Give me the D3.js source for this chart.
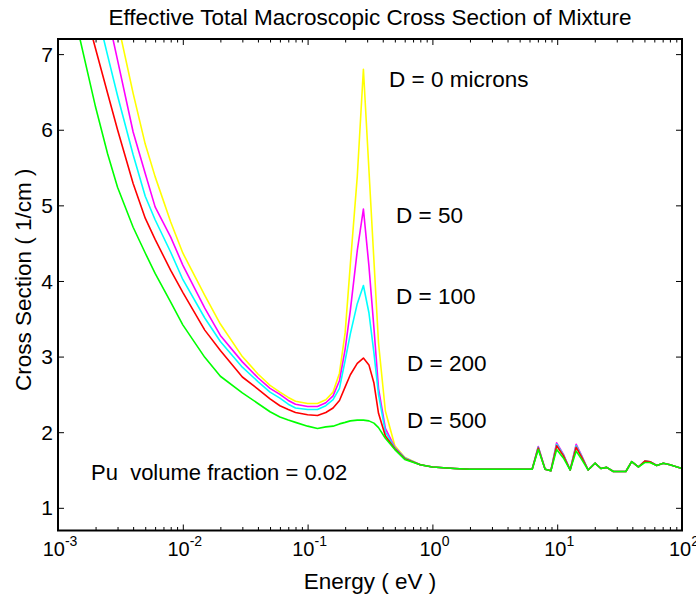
<!DOCTYPE html>
<html>
<head>
<meta charset="utf-8">
<script src="https://cdn.jsdelivr.net/npm/d3@7"></script>
<style>
  body { margin: 0; background: #fff; }
  svg { display: block; font-family: "Liberation Sans", Arial, Helvetica, sans-serif; }
  .tick line { stroke: #000; stroke-width: 1; }
</style>
</head>
<body>
<svg id="chart" width="696" height="598"></svg>
<script>
// energies (eV) shared by every curve
const energies = [0.0015, 0.002, 0.0025, 0.003, 0.004, 0.005, 0.006, 0.008, 0.01,
  0.015, 0.02, 0.03, 0.04, 0.05, 0.06, 0.07, 0.08,
  0.1, 0.12, 0.14, 0.16, 0.18, 0.2, 0.22, 0.25, 0.28,
  0.31, 0.34, 0.37, 0.42, 0.5, 0.6, 0.8, 1,
  1.5, 2, 3, 5, 6.3, 7.05, 8.0, 8.9, 9.9, 11.2, 12.7, 14.2, 15.7, 17.7,
  20.1, 22.4, 24.9, 28.2, 35.5, 39.5, 44.7, 50.6, 55.5, 62.7, 70.8, 80.1, 100];

// cross section (1/cm) for each particle size
const d0 = [9.73, 8.78, 8.03, 7.43, 6.48, 5.81, 5.38, 4.78, 4.37,
  3.81, 3.43, 3.00, 2.77, 2.62, 2.53, 2.46, 2.41,
  2.38, 2.38, 2.43, 2.53, 2.78, 3.32, 4.22, 5.38, 6.80,
  5.47, 4.27, 3.18, 2.28, 1.82, 1.67, 1.57, 1.54,
  1.52, 1.51, 1.51, 1.51, 1.51, 1.80, 1.51, 1.49, 1.85, 1.70, 1.50, 1.83, 1.68, 1.50,
  1.59, 1.52, 1.535, 1.48, 1.48, 1.61, 1.54, 1.61, 1.60, 1.56, 1.59, 1.57, 1.52];
const d50 = [9.22, 8.27, 7.52, 6.92, 5.97, 5.42, 4.98, 4.58, 4.21,
  3.64, 3.28, 2.93, 2.72, 2.58, 2.50, 2.42, 2.37,
  2.34, 2.34, 2.39, 2.48, 2.68, 3.10, 3.61, 4.40, 4.95,
  4.20, 3.38, 2.58, 2.05, 1.80, 1.66, 1.57, 1.54,
  1.52, 1.51, 1.51, 1.51, 1.51, 1.81, 1.51, 1.49, 1.86, 1.71, 1.50, 1.84, 1.69, 1.50,
  1.59, 1.52, 1.535, 1.48, 1.48, 1.61, 1.54, 1.62, 1.61, 1.56, 1.59, 1.57, 1.52];
const d100 = [8.48, 7.64, 6.98, 6.45, 5.67, 5.12, 4.81, 4.38, 4.02,
  3.51, 3.20, 2.86, 2.67, 2.53, 2.45, 2.37, 2.32,
  2.30, 2.30, 2.35, 2.43, 2.58, 2.95, 3.30, 3.70, 3.94,
  3.58, 3.05, 2.50, 2.00, 1.79, 1.66, 1.57, 1.54,
  1.52, 1.51, 1.51, 1.51, 1.51, 1.80, 1.51, 1.49, 1.84, 1.70, 1.50, 1.82, 1.68, 1.50,
  1.59, 1.52, 1.535, 1.48, 1.48, 1.61, 1.54, 1.62, 1.61, 1.56, 1.59, 1.57, 1.52];
const d200 = [7.84, 7.07, 6.48, 6.00, 5.29, 4.83, 4.55, 4.14, 3.85,
  3.35, 3.08, 2.73, 2.57, 2.44, 2.35, 2.30, 2.26,
  2.23, 2.22, 2.26, 2.32, 2.42, 2.60, 2.76, 2.91, 2.98,
  2.89, 2.65, 2.25, 1.95, 1.78, 1.65, 1.57, 1.54,
  1.52, 1.51, 1.51, 1.51, 1.51, 1.79, 1.51, 1.49, 1.82, 1.69, 1.50, 1.80, 1.67, 1.50,
  1.59, 1.52, 1.535, 1.48, 1.48, 1.61, 1.54, 1.62, 1.61, 1.56, 1.59, 1.57, 1.52];
const d500 = [7.20, 6.30, 5.68, 5.24, 4.71, 4.37, 4.10, 3.72, 3.42,
  2.99, 2.74, 2.52, 2.38, 2.27, 2.20, 2.16, 2.13,
  2.08, 2.05, 2.07, 2.08, 2.11, 2.13, 2.15, 2.16, 2.16,
  2.15, 2.12, 2.06, 1.92, 1.77, 1.64, 1.57, 1.54,
  1.52, 1.51, 1.51, 1.51, 1.51, 1.77, 1.51, 1.49, 1.77, 1.66, 1.50, 1.75, 1.64, 1.50,
  1.59, 1.52, 1.535, 1.48, 1.48, 1.61, 1.54, 1.60, 1.60, 1.56, 1.59, 1.57, 1.52];

const seriesNames = ['D = 0 microns', 'D = 50', 'D = 100', 'D = 200', 'D = 500'];
const seriesColours = ['#ffff00', '#ff00ff', '#00ffff', '#ff0000', '#00ff00'];
const seriesValues = [d0, d50, d100, d200, d500];

const xTicks = [1e-3, 1e-2, 1e-1, 1, 10, 100];
const xExponents = ['-3', '-2', '-1', '0', '1', '2'];
const yTicks = [1, 2, 3, 4, 5, 6, 7];

const svg = d3.select('#chart');
const margin = { left: 58, right: 14, top: 39, bottom: 67.5 };
const width = +svg.attr('width');
const height = +svg.attr('height');

const x = d3.scaleLog().domain([1e-3, 100]).range([margin.left, width - margin.right]);
const y = d3.scaleLinear().domain([0.7, 7.2]).range([height - margin.bottom, margin.top]);

// minor log ticks 2..9 per decade
const minorTicks = [];
for (let p = -3; p < 2; p++) {
  for (let m = 2; m <= 9; m++) minorTicks.push(m * Math.pow(10, p));
}

svg.append('defs').append('clipPath').attr('id', 'plot-clip')
  .append('rect')
    .attr('x', x.range()[0]).attr('y', y.range()[1])
    .attr('width', x.range()[1] - x.range()[0])
    .attr('height', y.range()[0] - y.range()[1]);

// curves
const line = d3.line()
  .x((d, i) => x(energies[i]))
  .y(d => y(d));

svg.append('g').attr('clip-path', 'url(#plot-clip)')
  .selectAll('path').data(seriesValues)
  .join('path')
    .attr('d', line)
    .attr('fill', 'none')
    .attr('stroke', (d, i) => seriesColours[i])
    .attr('stroke-width', 1.6)
    .attr('stroke-linejoin', 'round');

// axes with inward ticks
const plotBottom = y.range()[0], plotTop = y.range()[1];
const plotLeft = x.range()[0], plotRight = x.range()[1];

const addAxis = (axis, transform) => {
  const g = svg.append('g').attr('transform', transform).call(axis);
  g.select('.domain').remove();
  return g;
};

addAxis(d3.axisBottom(x).tickValues(xTicks).tickSize(-6).tickFormat(''), `translate(0,${plotBottom})`);
addAxis(d3.axisBottom(x).tickValues(minorTicks).tickSize(-3.5).tickFormat(''), `translate(0,${plotBottom})`);
addAxis(d3.axisTop(x).tickValues(xTicks).tickSize(-6).tickFormat(''), `translate(0,${plotTop})`);
addAxis(d3.axisTop(x).tickValues(minorTicks).tickSize(-3.5).tickFormat(''), `translate(0,${plotTop})`);
addAxis(d3.axisLeft(y).tickValues(yTicks).tickSize(-6).tickFormat(''), `translate(${plotLeft},0)`);
addAxis(d3.axisRight(y).tickValues(yTicks).tickSize(-6).tickFormat(''), `translate(${plotRight},0)`);

svg.append('rect')
  .attr('x', plotLeft).attr('y', plotTop)
  .attr('width', plotRight - plotLeft).attr('height', plotBottom - plotTop)
  .attr('fill', 'none').attr('stroke', '#000').attr('stroke-width', 2);

// tick labels
svg.append('g').selectAll('text').data(yTicks)
  .join('text')
    .attr('x', plotLeft - 5)
    .attr('y', d => y(d))
    .attr('dy', '0.36em')
    .attr('text-anchor', 'end')
    .attr('font-size', 21)
    .text(d => d);

const xLabels = svg.append('g').selectAll('text').data(xTicks)
  .join('text')
    .attr('x', d => x(d) + 2)
    .attr('y', 556)
    .attr('text-anchor', 'middle')
    .attr('font-size', 20);
xLabels.append('tspan').text('10');
xLabels.append('tspan').attr('dy', -10).attr('font-size', 14).text((d, i) => xExponents[i]);

// titles
svg.append('text')
  .attr('x', (plotLeft + plotRight) / 2).attr('y', 25)
  .attr('text-anchor', 'middle').attr('font-size', 22.5)
  .text('Effective Total Macroscopic Cross Section of Mixture');

svg.append('text')
  .attr('x', (plotLeft + plotRight) / 2).attr('y', 589)
  .attr('text-anchor', 'middle').attr('font-size', 22.5)
  .text('Energy ( eV )');

svg.append('text')
  .attr('transform', `translate(31,${(plotTop + plotBottom) / 2 - 5}) rotate(-90)`)
  .attr('text-anchor', 'middle').attr('font-size', 22.5)
  .text('Cross Section ( 1/cm )');

// curve annotations
const notePos = [[389, 87], [396, 223], [396, 304], [407, 371], [407, 428]];
svg.append('g').selectAll('text').data(seriesNames)
  .join('text')
    .attr('x', (d, i) => notePos[i][0])
    .attr('y', (d, i) => notePos[i][1])
    .attr('font-size', 22.5)
    .text(d => d);

svg.append('text')
  .attr('x', 91).attr('y', 480)
  .attr('font-size', 22)
  .style('white-space', 'pre')
  .text('Pu  volume fraction = 0.02');
</script>
</body>
</html>
